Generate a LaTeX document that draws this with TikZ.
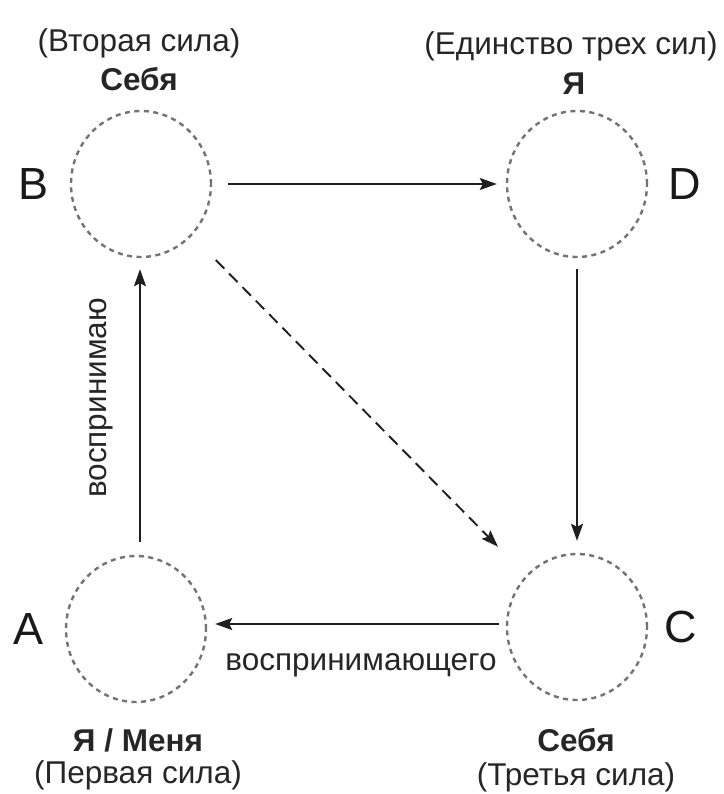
\documentclass[tikz,border=0pt]{standalone}
\usepackage{fontspec}
\setmainfont{Liberation Sans}
\usetikzlibrary{shapes.geometric,arrows.meta}
\begin{document}
\begin{tikzpicture}[x=1pt,y=-1pt,
  txt/.style={font=\fontsize{31.5}{36}\selectfont, text=black!85, inner sep=0pt},
  btxt/.style={font=\fontsize{31.5}{36}\selectfont\bfseries, text=black!85, inner sep=0pt},
  letter/.style={font=\fontsize{45}{50}\selectfont, text=black!90, inner sep=0pt},
  ring/.style={ellipse, draw=black!55, line width=2.4pt, dash pattern=on 5pt off 4.5pt, minimum width=140pt, minimum height=146pt, inner sep=0pt},
  conn/.style={draw=black!88, line width=1.9pt, -{Stealth[length=17pt,width=12pt,inset=3pt]}},
  dconn/.style={conn, dash pattern=on 12pt off 7pt}
]
\useasboundingbox[fill=white] (0,0) rectangle (723,794);
% circles
\node[ring] (B) at (141,184) {};
\node[ring] (D) at (577,184) {};
\node[ring] (A) at (136,629) {};
\node[ring] (C) at (577,627) {};
% letters
\node[letter] (lB) at (34,184) {B};
\node[letter] (lD) at (685,184) {D};
\node[letter] (lA) at (29,629) {A};
\node[letter] (lC) at (681,627) {C};
% top texts
\node[txt] (tB1) at (139,43) {(Вторая сила)};
\node[btxt] (tB2) at (139,79) {Себя};
\node[txt] (tD1) at (571,46) {(Единство трех сил)};
\node[btxt] (tD2) at (574,84) {Я};
% bottom texts
\node[btxt] (tA1) at (138,740) {Я / Меня};
\node[txt] (tA2) at (138,775) {(Первая сила)};
\node[btxt] (tC1) at (576,740) {Себя};
\node[txt] (tC2) at (576,777) {(Третья сила)};
% connectors
\draw[conn, shorten <=16pt, shorten >=9pt] (B.east) -- (B.east -| D.west);
\draw[conn, shorten <=11pt, shorten >=12pt] (D.south) -- (D.south |- C.north);
\draw[conn, shorten <=7pt, shorten >=8pt] ([yshift=3pt]C.west) -- ([yshift=3pt]C.west -| A.east);
\draw[conn, shorten <=13pt, shorten >=11pt] ([xshift=4pt]A.north) -- ([xshift=4pt]A.north |- B.south);
\draw[dconn, shorten <=34pt, shorten >=40pt] (B) -- (C);
% edge labels
\node[txt, rotate=90] (eAB) at (101,398) {воспринимаю};
\node[txt] (eCA) at (361,665) {воспринимающего};
\end{tikzpicture}
\end{document}
